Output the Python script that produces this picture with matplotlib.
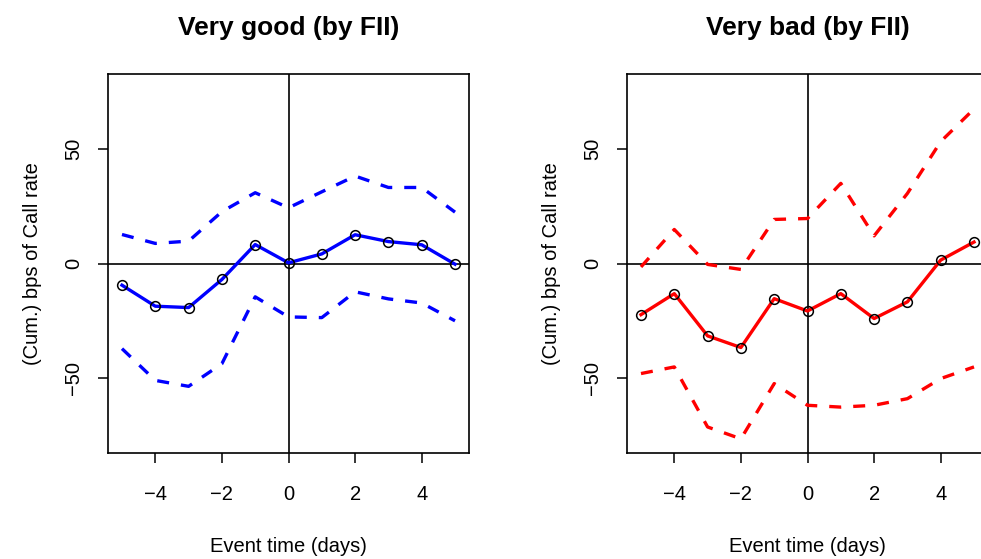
import matplotlib.pyplot as plt

plt.rcParams["font.family"] = ["Liberation Sans", "DejaVu Sans"]

event_days = [-5, -4, -3, -2, -1, 0, 1, 2, 3, 4, 5]

# cumulative bps of call rate, mean and confidence band
good_mean = [-9.5, -18.7, -19.3, -7.0, 8.3, 0.3, 4.2, 12.6, 9.6, 8.2, -0.3]
good_upper = [12.7, 8.8, 9.8, 22.7, 31.0, 24.4, 31.4, 38.3, 33.3, 33.3, 22.5]
good_lower = [-37.3, -51.2, -53.8, -43.9, -14.6, -23.4, -23.7, -12.4, -15.5, -17.3, -25.1]

bad_mean = [-22.4, -13.2, -31.7, -36.8, -15.4, -20.8, -13.2, -24.1, -16.8, 1.5, 9.4]
bad_upper = [-1.5, 14.9, -0.4, -2.6, 19.3, 19.7, 35.1, 12.1, 30.7, 53.4, 67.7]
bad_lower = [-48.2, -45.3, -71.6, -76.8, -52.6, -62.1, -62.9, -62.1, -59.2, -50.4, -45.3]

x_ticks = [-4, -2, 0, 2, 4]
y_ticks = [-50, 0, 50]

W, H = 981, 559
fig = plt.figure(figsize=(W / 100, H / 100), dpi=100)

# panel boxes in pixels: left, top, width, height
panels = [
    ((108, 74, 361, 379), "Very good (by FII)", "blue", good_mean, good_upper, good_lower),
    ((627, 74, 361, 379), "Very bad (by FII)", "red", bad_mean, bad_upper, bad_lower),
]

dashed = (0, (3.6, 3.6))

for (px, py, pw, ph), title, color, mean, upper, lower in panels:
    ax = fig.add_axes([px / W, 1 - (py + ph) / H, pw / W, ph / H])
    ax.set_xlim(-5.42, 5.42)
    ax.set_ylim(-83, 83)

    ax.axhline(0, color="black", lw=1.2, zorder=1)
    ax.axvline(0, color="black", lw=1.2, zorder=1)

    ax.plot(event_days, upper, color=color, lw=2.4, linestyle=dashed, zorder=2)
    ax.plot(event_days, lower, color=color, lw=2.4, linestyle=dashed, zorder=2)
    ax.plot(event_days, mean, color=color, lw=2.4, zorder=3)
    ax.plot(event_days, mean, linestyle="none", marker="o", ms=7,
            mfc="none", mec="black", mew=1.1, zorder=4)

    ax.set_xticks(x_ticks)
    ax.set_yticks(y_ticks)
    ax.set_xticklabels([f"{t}".replace("-", "\u2212") for t in x_ticks])
    ax.set_yticklabels([f"{t}".replace("-", "\u2212") for t in y_ticks],
                       rotation=90, va="center")
    ax.tick_params(axis="both", direction="out", length=7, width=1.1,
                   labelsize=14.5)
    ax.tick_params(axis="x", pad=16)
    ax.tick_params(axis="y", pad=11)
    for spine in ax.spines.values():
        spine.set_linewidth(1.2)

    ax.set_title(title, fontsize=19, fontweight="bold", pad=28)
    ax.set_xlabel("Event time (days)", fontsize=14.5, labelpad=24)
    ax.set_ylabel("(Cum.) bps of Call rate", fontsize=14.5, labelpad=16)

fig.savefig("out.png", dpi=100)
